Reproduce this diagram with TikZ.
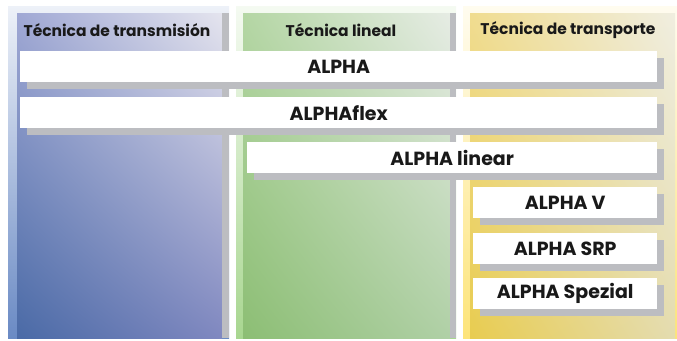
\documentclass[tikz,border=0pt]{standalone}
\usepackage{fontspec}
\setmainfont{Poppins}
\usetikzlibrary{shadows,shadings}
\definecolor{shadowgray}{HTML}{BCBDC1}
\definecolor{bluestrip}{HTML}{6A8AC4}
\definecolor{blueUL}{HTML}{A0A8D4}
\definecolor{blueUR}{HTML}{E4E4EE}
\definecolor{blueLL}{HTML}{4A6AA6}
\definecolor{blueLR}{HTML}{8088C0}
\definecolor{greenstrip}{HTML}{A8D690}
\definecolor{greenUL}{HTML}{B4D6A4}
\definecolor{greenUR}{HTML}{E6ECE4}
\definecolor{greenLL}{HTML}{8CBE74}
\definecolor{greenLR}{HTML}{B0D0A6}
\definecolor{yellowstrip}{HTML}{FDE47A}
\definecolor{yellowUL}{HTML}{F0DC90}
\definecolor{yellowUR}{HTML}{F0EEE0}
\definecolor{yellowLL}{HTML}{E8CC50}
\definecolor{yellowLR}{HTML}{E4DCB0}
\begin{document}
\begin{tikzpicture}[x=1pt,y=-1pt,
  bar/.style={fill=white, minimum height=31pt, inner sep=0pt, anchor=north west,
    font=\bfseries\fontsize{19}{21}\selectfont, text=black!90,
    general shadow={fill=shadowgray, shadow xshift=7pt, shadow yshift=-7pt}},
  head/.style={font=\bfseries\fontsize{15.5}{17}\selectfont, text=black!90}]
\useasboundingbox (0,0) rectangle (677,340);
% columns
\begin{scope}
\shade[top color=bluestrip!12!white, bottom color=bluestrip] (8,6) rectangle (229,338);
\shade[upper left=blueUL, upper right=blueUR, lower left=blueLL, lower right=blueLR] (17,13) rectangle (222,338);
\fill[shadowgray] (222,13) rectangle (229,338);
\end{scope}
\begin{scope}
\shade[top color=greenstrip!12!white, bottom color=greenstrip] (236,6) rectangle (456,338);
\shade[upper left=greenUL, upper right=greenUR, lower left=greenLL, lower right=greenLR] (243,13) rectangle (450,338);
\fill[shadowgray] (450,13) rectangle (456,338);
\end{scope}
\begin{scope}
\shade[top color=yellowstrip!12!white, bottom color=yellowstrip] (463,6) rectangle (677,338);
\shade[upper left=yellowUL, upper right=yellowUR, lower left=yellowLL, lower right=yellowLR] (470,13) rectangle (675,338);
\end{scope}
% headers
\node[head] (transmision) at (117,30) {Técnica de transmisión};
\node[head] (lineal) at (341,30) {Técnica lineal};
\node[head] (transporte) at (568,30) {Técnica de transporte};
% products
\node[bar, minimum width=637pt] (alpha) at (20,51) {ALPHA};
\node[bar, minimum width=637pt] (alphaflex) at (20,97) {ALPHAflex};
\node[bar, minimum width=410pt] (linear) at (247,142) {ALPHA linear};
\node[bar, minimum width=184pt] (v) at (473,187) {ALPHA V};
\node[bar, minimum width=184pt] (srp) at (473,233) {ALPHA SRP};
\node[bar, minimum width=184pt] (spezial) at (473,278) {ALPHA Spezial};
\end{tikzpicture}
\end{document}
